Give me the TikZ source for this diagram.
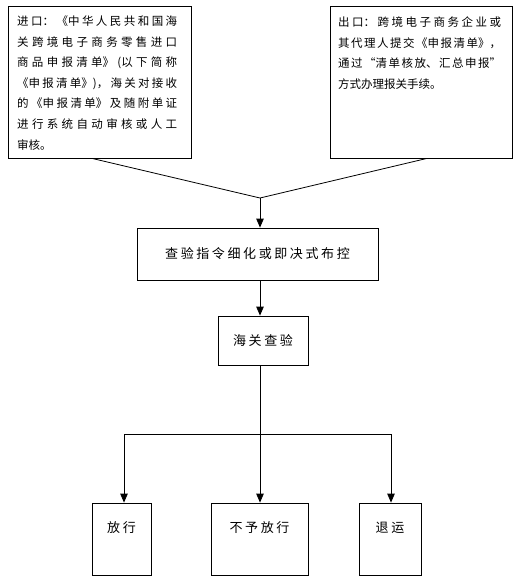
\documentclass[tikz,border=0pt]{standalone}
\usepackage{fontspec}
\setmainfont{Noto Sans CJK SC}
\newfontfamily\cjkbox[LetterSpace=20]{Noto Sans CJK SC}
\usetikzlibrary{arrows.meta,calc}
\XeTeXlinebreaklocale "zh"
\XeTeXlinebreakskip=0pt plus 8pt
\begin{document}
\begin{tikzpicture}[x=1pt,y=-1pt,
  box/.style={draw, line width=0.8pt, inner sep=0pt},
  para/.style={text width=160pt, align=justify, inner sep=0pt, anchor=north west,
    font=\fontsize{11.5}{20.6}\selectfont},
  btxt/.style={inner sep=0pt, font=\fontsize{13}{15}\cjkbox},
  conn/.style={line width=0.8pt},
  arr/.style={line width=0.8pt, -{Triangle[length=9pt,width=7.5pt]}}]
\useasboundingbox (0,0) rectangle (519,583);
% top boxes
\node[box, minimum width=183pt, minimum height=152pt] (L) at (99.5,82) {};
\node[box, minimum width=182pt, minimum height=152pt] (R) at (421,82) {};
\node[para] (Lt) at (17,15.5) {进口：《中华人民共和国海\linebreak 关跨境电子商务零售进口\linebreak 商品申报清单》(以下简称\linebreak 《申报清单》)，海关对接收\linebreak 的《申报清单》及随附单证\linebreak 进行系统自动审核或人工\linebreak 审核。};
\node[para, text width=163pt] (Rt) at (338,16.5) {出口：跨境电子商务企业或\linebreak 其代理人提交《申报清单》，\linebreak 通过“清单核放、汇总申报”\linebreak 方式办理报关手续。};
% middle boxes
\node[box, minimum width=241pt, minimum height=52pt, btxt] (B1) at (257.5,254) {查验指令细化或即决式布控};
\node[box, minimum width=90pt, minimum height=49pt, btxt] (B2) at (263,340.5) {海关查验};
% bottom boxes
\node[box, minimum width=59pt, minimum height=72pt] (F1) at (121.5,539) {};
\node[box, minimum width=97pt, minimum height=72pt] (F2) at (259.5,539) {};
\node[box, minimum width=62pt, minimum height=72pt] (F3) at (390,539) {};
\node[btxt] (F1t) at ([yshift=-25pt]F1.north) {放行};
\node[btxt] (F2t) at ([yshift=-25pt]F2.north) {不予放行};
\node[btxt] (F3t) at ([yshift=-25pt]F3.north) {退运};
% connectors
\coordinate (ap) at (260,198);
\coordinate (j) at (260,434);
\draw[conn] ([xshift=-7.5pt]L.south) -- (ap) -- ([xshift=6pt]R.south);
\draw[arr] (ap) -- (ap |- B1.north);
\draw[arr] (ap |- B1.south) -- (ap |- B2.north);
\draw[conn] (ap |- B2.south) -- (j);
\draw[arr] (j) -- (j |- F2.north);
\draw[arr] (j) -| ([xshift=2.5pt]F1.north);
\draw[arr] (j) -| ([xshift=1pt]F3.north);
\end{tikzpicture}
\end{document}
